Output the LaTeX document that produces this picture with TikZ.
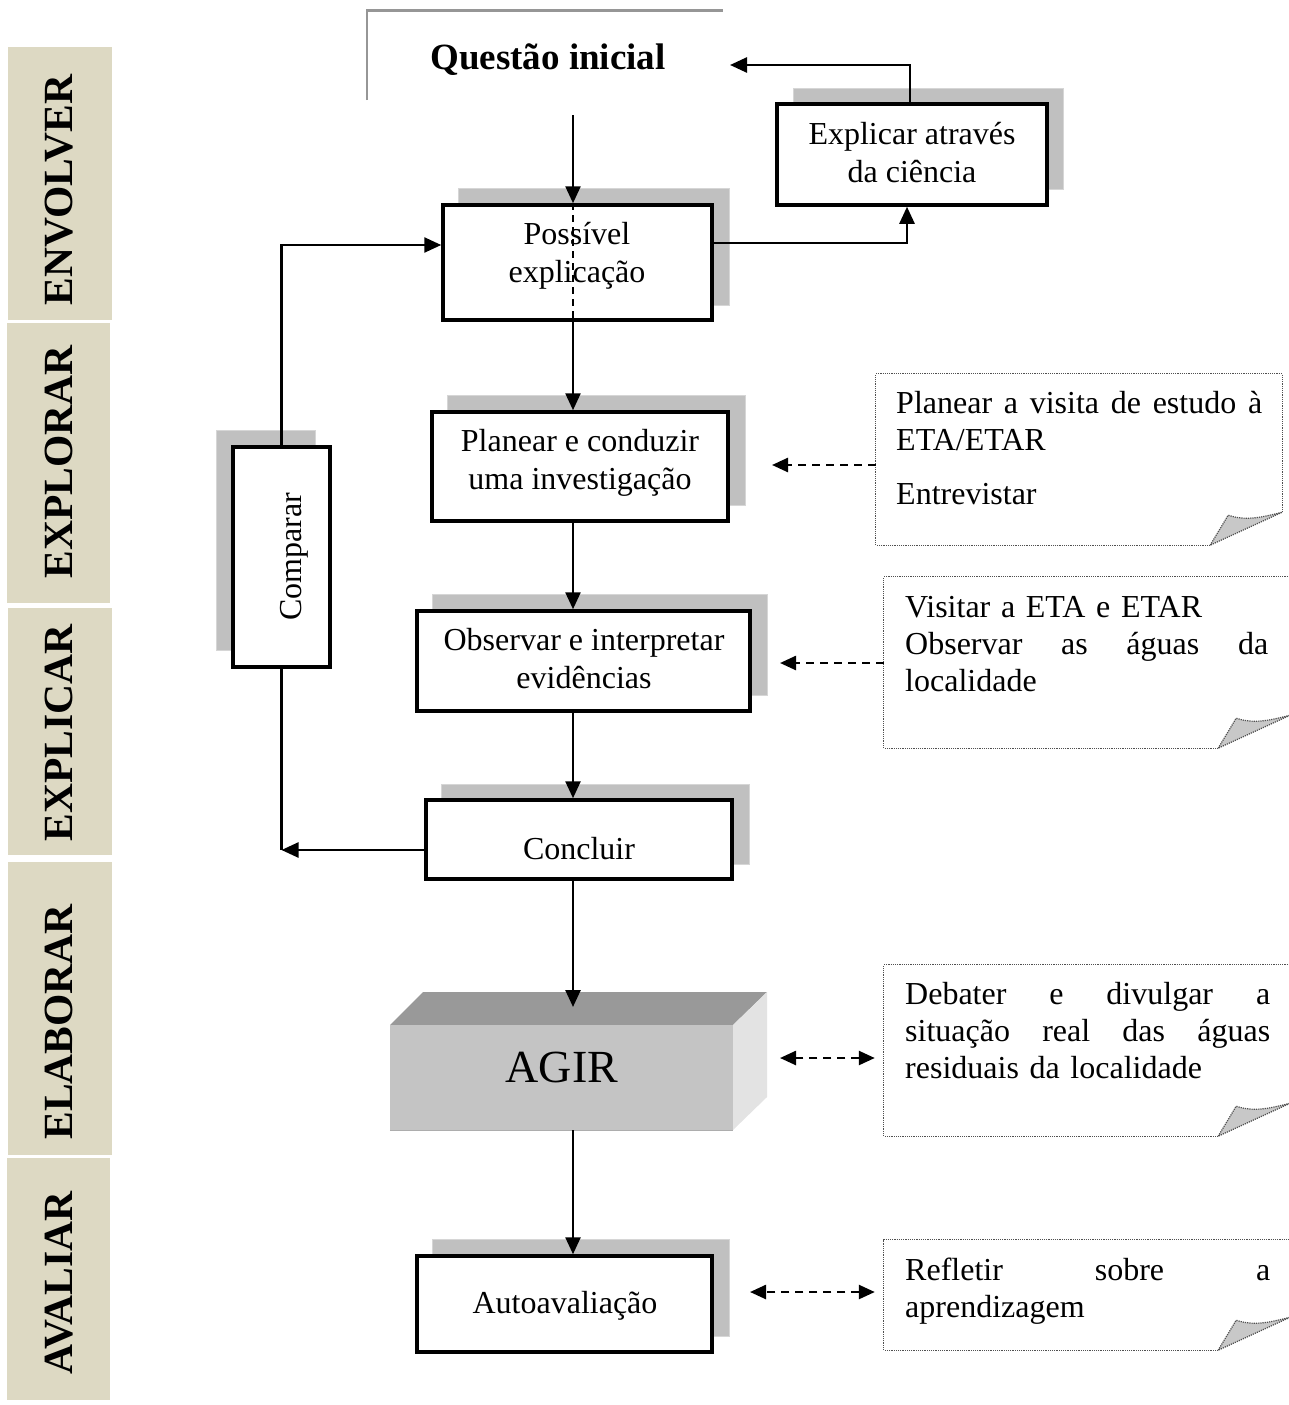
\documentclass[tikz,border=0pt]{standalone}
\usepackage{fontspec}
\setmainfont{Liberation Serif}
\usetikzlibrary{arrows.meta,calc}

\definecolor{band}{RGB}{221,217,195}
\definecolor{shade}{RGB}{192,192,192}
\definecolor{shadeedge}{RGB}{214,214,214}
\definecolor{agirtop}{RGB}{153,153,153}
\definecolor{agirfront}{RGB}{196,196,196}
\definecolor{agirside}{RGB}{227,227,227}
\definecolor{notefold}{RGB}{200,200,200}
\definecolor{noteedge}{RGB}{80,80,80}
\definecolor{framegray}{RGB}{150,150,150}

\tikzset{
  stepbox/.style={draw=black, line width=3.5pt, fill=white, inner sep=0pt},
  shadowbox/.style={fill=shade, draw=shadeedge, line width=1pt},
  boxtext/.style={align=center, font=\fontsize{32}{38}\selectfont, inner sep=0pt},
  phase/.style={font=\fontsize{41.5}{48}\selectfont\bfseries, rotate=90, inner sep=0pt},
  flow/.style={line width=2.5pt, -{Triangle[length=17pt,width=15pt]}},
  plain/.style={line width=2.5pt},
  dashflow/.style={line width=2.5pt, dash pattern=on 8pt off 6pt, -{Triangle[length=16pt,width=14pt]}},
  dashboth/.style={line width=2.5pt, dash pattern=on 8pt off 6pt, {Triangle[length=16pt,width=14pt]}-{Triangle[length=16pt,width=14pt]}},
  notetext/.style={font=\fontsize{32}{37}\selectfont, inner sep=0pt, anchor=base west, align=left, text width=#1},
  notearea/.style={inner sep=0pt},
  noteline/.style={draw=noteedge, line width=1.2pt, dash pattern=on 1.2pt off 1pt},
}

\begin{document}
\begin{tikzpicture}[x=1pt,y=-1pt]
\useasboundingbox (0,0) rectangle (1288,1405);

% phase bands on the left
\fill[band] (8,47) rectangle (112,320);
\fill[band] (7,323) rectangle (110,603);
\fill[band] (8,608) rectangle (112,855);
\fill[band] (8,862) rectangle (112,1155);
\fill[band] (7,1158) rectangle (110,1400);
\node[phase] (ph1) at (59,190) {ENVOLVER};
\node[phase] (ph2) at (59,462) {EXPLORAR};
\node[phase] (ph3) at (59,733) {EXPLICAR};
\node[phase] (ph4) at (59,1022) {ELABORAR};
\node[phase] (ph5) at (59,1283) {AVALIAR};

% starting question with its open frame
\draw[framegray, line width=2.5pt] (367,100) -- (367,10.5) -- (723,10.5);
\node[font=\fontsize{37}{44}\selectfont\bfseries, anchor=base, inner sep=0pt] (quest) at (548,70) {Questão inicial};

% shadows
\fill[shadowbox] (793,88) rectangle (1063,189);
\fill[shadowbox] (458,188) rectangle (729,305);
\fill[shadowbox] (447,395) rectangle (745,505);
\fill[shadowbox] (432,594) rectangle (767,695);
\fill[shadowbox] (441,784) rectangle (749,864);
\fill[shadowbox] (432,1239) rectangle (729,1336);
\fill[shadowbox] (216,430) rectangle (315,650);

% process boxes
\node[stepbox, minimum width=270pt, minimum height=101pt] (expl) at (912,154.5) {};
\node[stepbox, minimum width=269pt, minimum height=115pt] (poss) at (577.5,262.5) {};
\node[stepbox, minimum width=296pt, minimum height=109pt] (plan) at (580,466.5) {};
\node[stepbox, minimum width=333pt, minimum height=100pt] (obs) at (583.5,661) {};
\node[stepbox, minimum width=306pt, minimum height=79pt] (concl) at (579,839.5) {};
\node[stepbox, minimum width=295pt, minimum height=96pt] (auto) at (564.5,1304) {};
\node[stepbox, minimum width=97pt, minimum height=220pt] (comp) at (281.5,557) {};

\node[boxtext] (explt) at (912,153) {Explicar através\\da ciência};
\node[boxtext] (posst) at (577,256) {Possível\\explicação};
\node[boxtext] (plant) at (580,463) {Planear e conduzir\\uma investigação};
\node[boxtext] (obst) at (584,659) {Observar e interpretar\\evidências};
\node[boxtext] (conclt) at (579,849) {Concluir};
\node[boxtext] (autot) at (565,1306) {Autoavaliação};
\node[boxtext, rotate=90] (compt) at (294,557) {Comparar};

% AGIR block
\fill[agirtop] (390,1025) -- (423,992) -- (767,992) -- (733,1025) -- cycle;
\fill[agirside] (733,1025) -- (767,992) -- (767,1097) -- (733,1130) -- cycle;
\node[fill=agirfront, inner sep=0pt, minimum width=343pt, minimum height=105pt] (agir) at (561.5,1077.5) {};
\draw[agirtop!80, line width=1pt] (agir.south west) -- (agir.south east);
\node[font=\fontsize{46}{52}\selectfont, inner sep=0pt, anchor=base] (agirt) at (562,1082) {AGIR};

% main flow
\coordinate (axis) at (573,115);
\coordinate (agirin) at (573,1007);
\draw[flow] (axis) -- (axis |- poss.north);
\draw[line width=2.5pt, dash pattern=on 7pt off 5pt] (axis |- poss.north) -- (axis |- poss.south);
\draw[flow] (axis |- poss.south) -- (axis |- plan.north);
\draw[flow] (axis |- plan.south) -- (axis |- obs.north);
\draw[flow] (axis |- obs.south) -- (axis |- concl.north);
\draw[flow] (axis |- concl.south) -- (agirin);
\draw[flow] (axis |- agir.south) -- (axis |- auto.north);

% science loop
\coordinate (qin) at (730,65);
\coordinate (loopup) at (910,0);
\coordinate (loopin) at (907,243);
\draw[flow] (loopup |- expl.north) |- (qin);
\draw[flow] (poss.east |- loopin) -| (loopin |- expl.south);

% comparison loop
\coordinate (corner) at (284,850);
\draw[flow] (comp.north) |- (poss.west |- 0,245);
\draw[plain] (comp.south) -- (comp.south |- corner);
\draw[flow] (concl.west |- corner) -- (comp.south |- corner);

% notes with a curled corner
\foreach \nm/\cx/\cy/\w/\h in {n1/1079/459.5/406/171, n2/1087/662.5/406/171, n3/1087/1050.5/406/171, n4/1087/1295/406/110}{
  \node[notearea, minimum width=\w pt, minimum height=\h pt] (\nm) at (\cx,\cy) {};
  \fill[white] (\nm.north west) -- (\nm.north east) -- ($(\nm.south east)+(0,-33)$) -- ($(\nm.south east)+(-72,0)$) -- (\nm.south west) -- cycle;
  \draw[noteline] ($(\nm.south east)+(-72,0)$) -- (\nm.south west) -- (\nm.north west) -- (\nm.north east) -- ($(\nm.south east)+(0,-33)$);
  \filldraw[fill=notefold, noteline] ($(\nm.south east)+(-72,0)$) -- ($(\nm.south east)+(-54,-30)$)
    .. controls ($(\nm.south east)+(-36,-24)$) and ($(\nm.south east)+(-20,-28)$) .. ($(\nm.south east)+(0,-33)$) -- cycle;
}

\node[notetext=366pt] (n1t) at (896,413) {Planear\hfill a\hfill visita\hfill de\hfill estudo\hfill à\\ETA/ETAR\\[17pt]Entrevistar};
\node[notetext=363pt] (n2t) at (905,617) {Visitar a ETA e ETAR\\Observar\hfill as\hfill águas\hfill da\\localidade};
\node[notetext=365pt] (n3t) at (905,1004) {Debater\hfill e\hfill divulgar\hfill a\\situação\hfill real\hfill das\hfill águas\\residuais da localidade};
\node[notetext=365pt] (n4t) at (905,1280) {Refletir\hfill sobre\hfill a\\aprendizagem};

% links from the notes
\coordinate (t1) at (772,465);
\coordinate (t2) at (780,663);
\coordinate (t3) at (780,1058);
\coordinate (t4) at (750,1292);
\draw[dashflow] (n1.west |- t1) -- (t1);
\draw[dashflow] (n2.west |- t2) -- (t2);
\draw[dashboth] ($(n3.west |- t3)+(-9,0)$) -- (t3);
\draw[dashboth] ($(n4.west |- t4)+(-9,0)$) -- (t4);
\end{tikzpicture}
\end{document}
